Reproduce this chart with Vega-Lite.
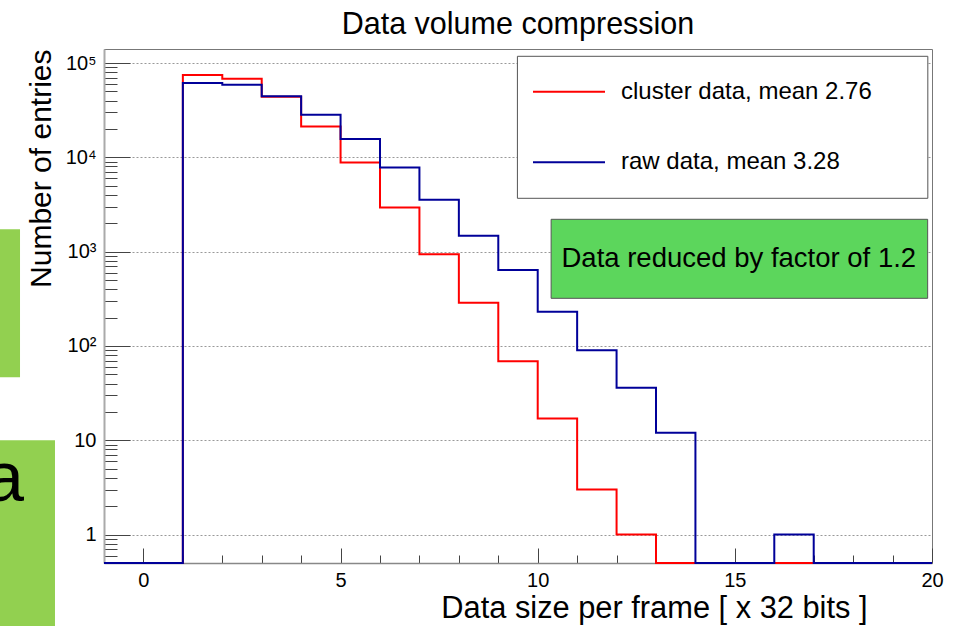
{
  "$schema": "https://vega.github.io/schema/vega-lite/v6.json",
  "width": 828,
  "height": 514,
  "autosize": {"type": "none"},
  "padding": {"left": 104, "top": 49, "right": 34, "bottom": 63},
  "background": "white",
  "title": {"text": "Data volume compression", "anchor": "middle", "fontSize": 30.5, "font": "Liberation Sans", "fontWeight": "normal", "color": "black", "baseline": "alphabetic", "offset": -15},
  "config": {
    "view": {"stroke": "#777", "strokeWidth": 1},
    "axis": {"labelFont": "Liberation Sans", "titleFont": "Liberation Sans", "labelColor": "black", "titleColor": "black", "titleFontWeight": "normal", "tickColor": "#444"}
  },
  "resolve": {"scale": {"y": "independent"}, "axis": {"x": "independent", "y": "independent"}},
  "layer": [
    {
      "data": {"values": [{}]},
      "mark": {"type": "rect", "fill": "#92d050", "clip": false},
      "encoding": {
        "x": {"datum": -3.66, "type": "quantitative", "scale": {"domain": [-1, 20], "nice": false, "zero": false}, "axis": null},
        "x2": {"datum": -3.13},
        "y": {"datum": 1726, "type": "quantitative", "scale": {"type": "log", "domain": [0.5, 140800], "nice": false}, "axis": null},
        "y2": {"datum": 46.5}
      }
    },
    {
      "data": {"values": [{}]},
      "mark": {"type": "rect", "fill": "#92d050", "clip": false},
      "encoding": {
        "x": {"datum": -3.66, "type": "quantitative", "axis": null},
        "x2": {"datum": -2.243},
        "y": {"datum": 10, "type": "quantitative", "scale": {"type": "log", "domain": [0.5, 140800], "nice": false}, "axis": null},
        "y2": {"datum": 0.1}
      }
    },
    {
      "data": {"values": [{"t": "a"}]},
      "mark": {"type": "text", "align": "right", "baseline": "alphabetic", "fontSize": 71, "font": "Liberation Sans", "color": "black", "clip": false},
      "encoding": {
        "text": {"field": "t"},
        "x": {"datum": -3.03, "type": "quantitative", "axis": null},
        "y": {"datum": 2.25, "type": "quantitative", "scale": {"type": "log", "domain": [0.5, 140800], "nice": false}, "axis": null}
      }
    },
    {
      "data": {"values": [{}]},
      "mark": {"type": "rect", "fill": "white", "stroke": "#555", "strokeWidth": 1},
      "encoding": {
        "x": {"datum": 9.485, "type": "quantitative", "axis": {"orient": "bottom", "values": [1, 2, 3, 4, 6, 7, 8, 9, 11, 12, 13, 14, 16, 17, 18, 19], "tickSize": -8, "labels": false, "domain": false, "grid": false, "title": null}},
        "x2": {"datum": 19.894},
        "y": {"datum": 117800, "type": "quantitative", "scale": {"type": "log", "domain": [0.5, 140800], "nice": false}, "axis": {"orient": "left", "values": [0.6, 0.7, 0.8, 0.9, 2, 3, 4, 5, 6, 7, 8, 9, 20, 30, 40, 50, 60, 70, 80, 90, 200, 300, 400, 500, 600, 700, 800, 900, 2000, 3000, 4000, 5000, 6000, 7000, 8000, 9000, 20000, 30000, 40000, 50000, 60000, 70000, 80000, 90000], "tickSize": -13, "labels": false, "domain": false, "grid": false, "title": null}},
        "y2": {"datum": 3678}
      }
    },
    {
      "data": {"values": [{}]},
      "mark": {"type": "rect", "fill": "#5cd65c", "stroke": "#555", "strokeWidth": 1},
      "encoding": {
        "x": {"datum": 10.34, "type": "quantitative", "axis": null},
        "x2": {"datum": 19.89},
        "y": {"datum": 2203, "type": "quantitative", "scale": {"type": "log", "domain": [0.5, 140800], "nice": false}, "axis": null},
        "y2": {"datum": 320}
      }
    },
    {
      "data": {"values": [{"t": "Data reduced by factor of 1.2"}]},
      "mark": {"type": "text", "align": "center", "baseline": "middle", "fontSize": 27.5, "font": "Liberation Sans", "color": "black"},
      "encoding": {
        "text": {"field": "t"},
        "x": {"datum": 15.1, "type": "quantitative", "axis": null},
        "y": {"datum": 840, "type": "quantitative", "scale": {"type": "log", "domain": [0.5, 140800], "nice": false}, "axis": null}
      }
    },
    {
      "data": {"values": [
        {"series": "cluster data, mean 2.76", "x": -1, "count": 0},
        {"series": "cluster data, mean 2.76", "x": 0, "count": 0},
        {"series": "cluster data, mean 2.76", "x": 1, "count": 74600},
        {"series": "cluster data, mean 2.76", "x": 2, "count": 68100},
        {"series": "cluster data, mean 2.76", "x": 3, "count": 44000},
        {"series": "cluster data, mean 2.76", "x": 4, "count": 21200},
        {"series": "cluster data, mean 2.76", "x": 5, "count": 8810},
        {"series": "cluster data, mean 2.76", "x": 6, "count": 2930},
        {"series": "cluster data, mean 2.76", "x": 7, "count": 938},
        {"series": "cluster data, mean 2.76", "x": 8, "count": 288},
        {"series": "cluster data, mean 2.76", "x": 9, "count": 69},
        {"series": "cluster data, mean 2.76", "x": 10, "count": 17},
        {"series": "cluster data, mean 2.76", "x": 11, "count": 3},
        {"series": "cluster data, mean 2.76", "x": 12, "count": 1},
        {"series": "cluster data, mean 2.76", "x": 13, "count": 0},
        {"series": "cluster data, mean 2.76", "x": 14, "count": 0},
        {"series": "cluster data, mean 2.76", "x": 15, "count": 0},
        {"series": "cluster data, mean 2.76", "x": 16, "count": 0},
        {"series": "cluster data, mean 2.76", "x": 17, "count": 0},
        {"series": "cluster data, mean 2.76", "x": 18, "count": 0},
        {"series": "cluster data, mean 2.76", "x": 19, "count": 0},
        {"series": "cluster data, mean 2.76", "x": 20, "count": 0},
        {"series": "raw data, mean 3.28", "x": -1, "count": 0},
        {"series": "raw data, mean 3.28", "x": 0, "count": 0},
        {"series": "raw data, mean 3.28", "x": 1, "count": 61400},
        {"series": "raw data, mean 3.28", "x": 2, "count": 58900},
        {"series": "raw data, mean 3.28", "x": 3, "count": 44300},
        {"series": "raw data, mean 3.28", "x": 4, "count": 28300},
        {"series": "raw data, mean 3.28", "x": 5, "count": 15600},
        {"series": "raw data, mean 3.28", "x": 6, "count": 7800},
        {"series": "raw data, mean 3.28", "x": 7, "count": 3540},
        {"series": "raw data, mean 3.28", "x": 8, "count": 1470},
        {"series": "raw data, mean 3.28", "x": 9, "count": 640},
        {"series": "raw data, mean 3.28", "x": 10, "count": 231},
        {"series": "raw data, mean 3.28", "x": 11, "count": 90},
        {"series": "raw data, mean 3.28", "x": 12, "count": 36},
        {"series": "raw data, mean 3.28", "x": 13, "count": 12},
        {"series": "raw data, mean 3.28", "x": 14, "count": 0},
        {"series": "raw data, mean 3.28", "x": 15, "count": 0},
        {"series": "raw data, mean 3.28", "x": 16, "count": 1},
        {"series": "raw data, mean 3.28", "x": 17, "count": 0},
        {"series": "raw data, mean 3.28", "x": 18, "count": 0},
        {"series": "raw data, mean 3.28", "x": 19, "count": 0},
        {"series": "raw data, mean 3.28", "x": 20, "count": 0}
      ]},
      "mark": {"type": "line", "interpolate": "step-after", "strokeWidth": 2},
      "encoding": {
        "x": {"field": "x", "type": "quantitative", "axis": {"orient": "bottom", "values": [0, 5, 10, 15, 20], "format": "d", "tickSize": -15, "labelPadding": 22, "labelFontSize": 20, "labelFlush": false, "grid": false, "domainColor": "#888", "domainWidth": 1.5, "title": "Data size per frame [ x 32 bits  ]", "titleFontSize": 30.8, "titleX": 763, "titleY": 54, "titleAlign": "right", "titleBaseline": "alphabetic", "titleAnchor": null}},
        "y": {"field": "count", "type": "quantitative", "scale": {"type": "log", "domain": [0.5, 140800], "nice": false, "clamp": true}, "axis": {"orient": "left", "values": [1, 10, 100, 1000, 10000, 100000], "tickSize": -26, "labelPadding": 34, "labelFontSize": 20, "labelExpr": "datum.value > 50000 ? '10⁵' : datum.value > 5000 ? '10⁴' : datum.value > 500 ? '10³' : datum.value > 50 ? '10²' : datum.value > 5 ? '10' : '1'", "grid": true, "gridDash": [2, 2], "gridColor": "#999", "gridWidth": 1, "domainColor": "#aaa", "domainWidth": 2, "title": "Number of entries", "titleFontSize": 30, "titleAngle": 270, "titleX": -54, "titleY": 0, "titleAlign": "right", "titleBaseline": "alphabetic", "titleAnchor": null}},
        "color": {"field": "series", "type": "nominal", "scale": {"domain": ["cluster data, mean 2.76", "raw data, mean 3.28"], "range": ["#ff0000", "#000099"]}, "legend": {"orient": "none", "legendX": 428, "legendY": 30.7, "title": null, "symbolType": "stroke", "symbolSize": 5184, "symbolStrokeWidth": 2, "labelFontSize": 24, "labelFont": "Liberation Sans", "labelColor": "black", "labelOffset": 15, "labelLimit": 500, "rowPadding": 46.6, "clipHeight": 24, "padding": 0}}
      }
    }
  ]
}
